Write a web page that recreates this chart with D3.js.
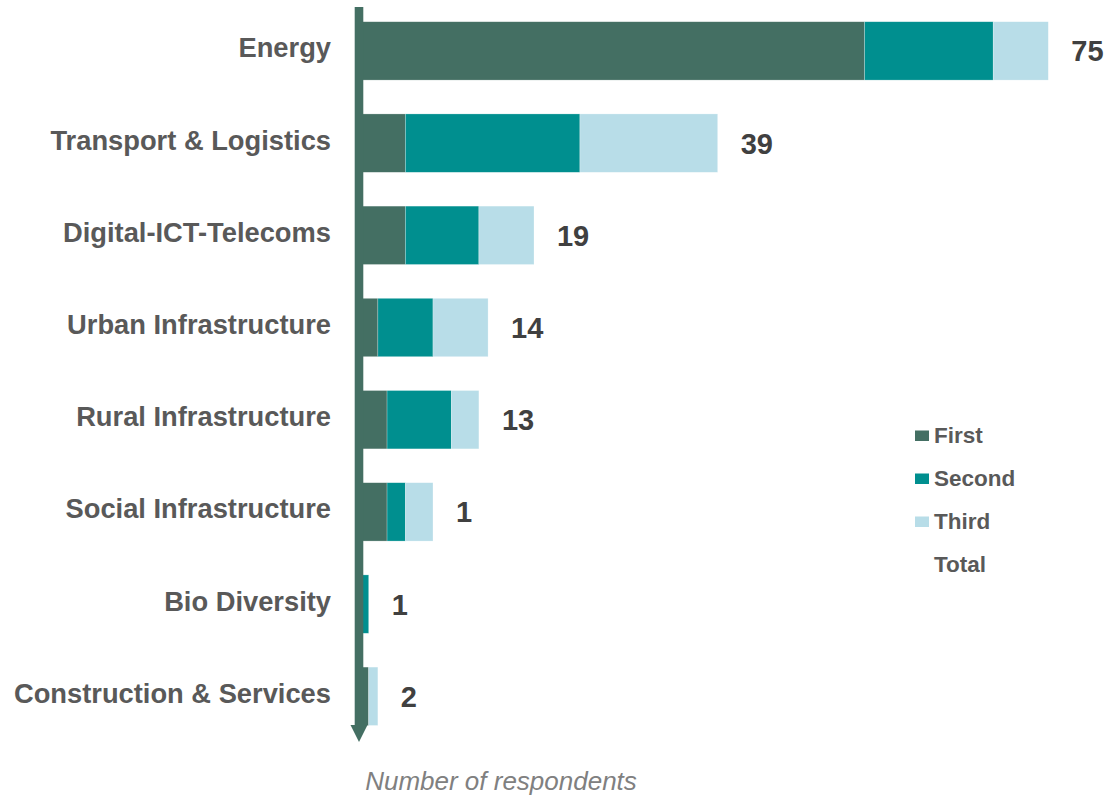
<!DOCTYPE html>
<html>
<head>
<meta charset="utf-8">
<script src="https://cdn.jsdelivr.net/npm/d3@7"></script>
<style>
  html, body { margin: 0; padding: 0; background: #ffffff; }
  svg { display: block; }
</style>
</head>
<body>
<svg id="chart" width="1115" height="799"></svg>
<script>
// Sectors ranked by respondents (first, second and third choice)
const categories = [
  "Energy",
  "Transport & Logistics",
  "Digital-ICT-Telecoms",
  "Urban Infrastructure",
  "Rural Infrastructure",
  "Social Infrastructure",
  "Bio Diversity",
  "Construction & Services"
];
const first  = [55, 5, 5, 2, 3, 3, 0, 1];
const second = [14, 19, 8, 6, 7, 2, 1, 0];
const third  = [6, 15, 6, 6, 3, 3, 0, 1];
const totals = [75, 39, 19, 14, 13, 1, 1, 2];

const seriesNames = ["First", "Second", "Third", "Total"];
const colors = { First: "#446f63", Second: "#008f8f", Third: "#b8dde8", Total: "none" };

const rows = categories.map((c, i) => ({
  category: c, First: first[i], Second: second[i], Third: third[i], Total: totals[i]
}));

const svg = d3.select("#chart");

const x = d3.scaleLinear().domain([0, 75]).range([359.5, 1048.3]);
const y = d3.scaleBand().domain(categories).range([-12.1, 759.3]).padding(0.367);

const stack = d3.stack().keys(["First", "Second", "Third"]);
const stacked = stack(rows);

// Stacked bars
const layers = svg.append("g").selectAll("g")
  .data(stacked)
  .join("g")
  .attr("fill", d => colors[d.key]);

layers.selectAll("rect")
  .data(d => d)
  .join("rect")
  .attr("x", d => x(d[0]))
  .attr("y", d => y(d.data.category))
  .attr("width", d => Math.max(0, x(d[1]) - x(d[0])))
  .attr("height", y.bandwidth())
  .attr("stroke", "#ffffff")
  .attr("stroke-opacity", 0.4)
  .attr("stroke-width", 0.6);

// Total labels, placed just past the end of each stack
const lastLayer = stacked[stacked.length - 1];
svg.append("g").selectAll("text")
  .data(rows)
  .join("text")
  .attr("x", (d, i) => x(lastLayer[i][1]) + 23)
  .attr("y", d => y(d.category) + y.bandwidth() / 2 + 10.5)
  .attr("font-family", "'Liberation Sans', Arial, sans-serif")
  .attr("font-weight", "bold")
  .attr("font-size", 29)
  .attr("fill", "#404040")
  .text(d => d.Total);

// Category labels
svg.append("g").selectAll("text")
  .data(categories)
  .join("text")
  .attr("x", 331)
  .attr("y", d => y(d) + y.bandwidth() / 2 + 6.5)
  .attr("text-anchor", "end")
  .attr("font-family", "'Liberation Sans', Arial, sans-serif")
  .attr("font-weight", "bold")
  .attr("font-size", 27.3)
  .attr("fill", "#595959")
  .text(d => d);

// Vertical category axis with downward arrow
const axisX = x(0) - 0.5;
const axisTop = 7;
const axisBottom = 725;
svg.append("line")
  .attr("x1", axisX).attr("x2", axisX)
  .attr("y1", axisTop).attr("y2", axisBottom + 1)
  .attr("stroke", colors.First)
  .attr("stroke-width", 8.6);
svg.append("path")
  .attr("d", `M${axisX - 8.5},${axisBottom} L${axisX + 8.5},${axisBottom} L${axisX},${axisBottom + 17} Z`)
  .attr("fill", colors.First);

// Legend
const legend = svg.append("g").attr("transform", "translate(915,0)");
const legendRows = legend.selectAll("g")
  .data(seriesNames)
  .join("g")
  .attr("transform", (d, i) => `translate(0,${443 + i * 43})`);
legendRows.append("rect")
  .attr("x", 0).attr("y", -12.5)
  .attr("width", 14).attr("height", 10.5)
  .attr("fill", d => colors[d]);
legendRows.append("text")
  .attr("x", 19).attr("y", 0)
  .attr("font-family", "'Liberation Sans', Arial, sans-serif")
  .attr("font-weight", "bold")
  .attr("font-size", 22.5)
  .attr("fill", "#595959")
  .text(d => d);

// Axis title
svg.append("text")
  .attr("x", 501).attr("y", 790)
  .attr("text-anchor", "middle")
  .attr("font-family", "'Liberation Sans', Arial, sans-serif")
  .attr("font-style", "italic")
  .attr("font-size", 26)
  .attr("fill", "#808080")
  .text("Number of respondents");
</script>
</body>
</html>
